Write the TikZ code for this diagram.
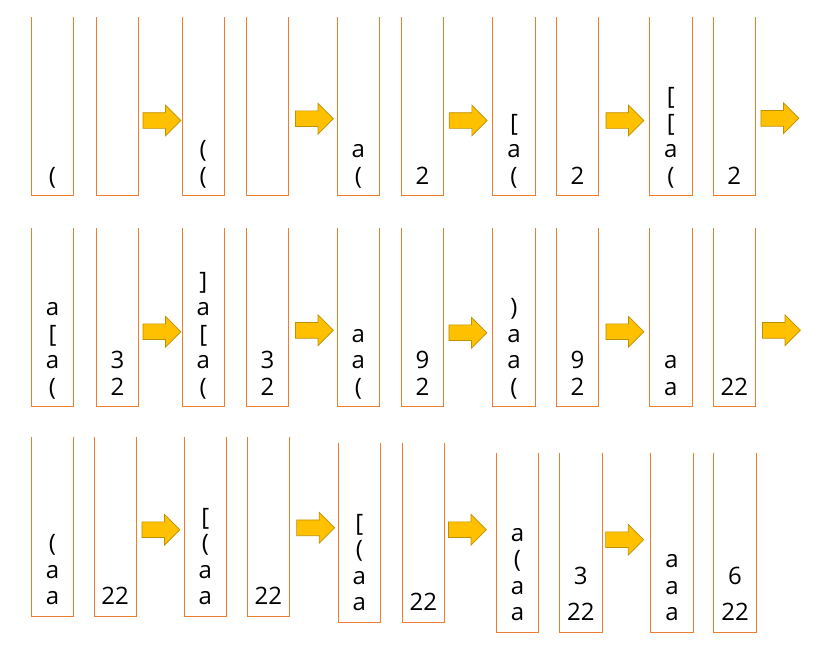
\documentclass[tikz,border=0pt]{standalone}
\usepackage{fontspec}
\setmainfont{Open Sans}
\usetikzlibrary{shapes.arrows}
\definecolor{stackorange}{HTML}{ED7D31}
\definecolor{arrowgold}{HTML}{FFC000}
\definecolor{arrowedge}{HTML}{BF9000}
\tikzstyle{stack} = [rectangle, minimum width=42, minimum height=178.5, inner sep=0]
\tikzstyle{wall} = [draw=stackorange, line width=1pt]
\tikzstyle{push} = [single arrow, single arrow head extend=7.5pt, minimum width=30,
    minimum height=38, inner xsep=0, inner ysep=7.5pt, fill=arrowgold, draw=arrowedge, line width=0.7pt]
\tikzstyle{items} = [font=\fontsize{24}{26.5}\selectfont, align=center, inner sep=0,
    anchor=south, execute at end node=\strut]

\begin{document}
\begin{tikzpicture}[x=1pt,y=-1pt]
    \useasboundingbox (0,0) rectangle (831,648);
    \node[stack] (r1c1) at (52.5,106.5) {};
    \node[stack] (r1c2) at (117.5,106.5) {};
    \node[stack] (r1c3) at (203.2,106.5) {};
    \node[stack] (r1c4) at (267.5,106.5) {};
    \node[stack] (r1c5) at (358.3,106.5) {};
    \node[stack] (r1c6) at (422.5,106.5) {};
    \node[stack] (r1c7) at (514,106.5) {};
    \node[stack] (r1c8) at (577.5,106.5) {};
    \node[stack] (r1c9) at (670.8,106.5) {};
    \node[stack] (r1c10) at (734.3,106.5) {};
    \node[stack] (r2c1) at (52.5,317.5) {};
    \node[stack] (r2c2) at (117.5,317.5) {};
    \node[stack] (r2c3) at (203.2,317.5) {};
    \node[stack] (r2c4) at (267.5,317.5) {};
    \node[stack] (r2c5) at (358.3,317.5) {};
    \node[stack] (r2c6) at (422.5,317.5) {};
    \node[stack] (r2c7) at (514,317.5) {};
    \node[stack] (r2c8) at (577.5,317.5) {};
    \node[stack] (r2c9) at (670.8,317.5) {};
    \node[stack] (r2c10) at (734.3,317.5) {};
    \node[stack] (r3c1) at (52.5,526.7) {};
    \node[stack] (r3c2) at (115.2,526.7) {};
    \node[stack] (r3c3) at (205.3,526.7) {};
    \node[stack] (r3c4) at (268.3,526.7) {};
    \node[stack] (r3c5) at (359.3,532.7) {};
    \node[stack] (r3c6) at (423.3,532.7) {};
    \node[stack] (r3c7) at (517.5,542.7) {};
    \node[stack] (r3c8) at (580.8,542.7) {};
    \node[stack] (r3c9) at (672,542.7) {};
    \node[stack] (r3c10) at (735,542.7) {};
    \foreach \n in {r1c1,r1c2,r1c3,r1c4,r1c5,r1c6,r1c7,r1c8,r1c9,r1c10,
                    r2c1,r2c2,r2c3,r2c4,r2c5,r2c6,r2c7,r2c8,r2c9,r2c10,
                    r3c1,r3c2,r3c3,r3c4,r3c5,r3c6,r3c7,r3c8,r3c9,r3c10}
        \draw[wall] (\n.north west) -- (\n.south west) -- (\n.south east) -- (\n.north east);

    \node[items] (s1c1) at ([yshift=3.5]r1c1.south) {(};
    \node[items] (s1c3) at ([yshift=3.5]r1c3.south) {(\\(};
    \node[items] (s1c5) at ([yshift=3.5]r1c5.south) {a\\(};
    \node[items] (s1c6) at ([yshift=3.5]r1c6.south) {2};
    \node[items] (s1c7) at ([yshift=3.5]r1c7.south) {{[}\\a\\(};
    \node[items] (s1c8) at ([yshift=3.5]r1c8.south) {2};
    \node[items] (s1c9) at ([yshift=3.5]r1c9.south) {{[}\\{[}\\a\\(};
    \node[items] (s1c10) at ([yshift=3.5]r1c10.south) {2};

    \node[items] (s2c1) at ([yshift=3.5]r2c1.south) {a\\{[}\\a\\(};
    \node[items] (s2c2) at ([yshift=3.5]r2c2.south) {3\\2};
    \node[items] (s2c3) at ([yshift=3.5]r2c3.south) {]\\a\\{[}\\a\\(};
    \node[items] (s2c4) at ([yshift=3.5]r2c4.south) {3\\2};
    \node[items] (s2c5) at ([yshift=3.5]r2c5.south) {a\\a\\(};
    \node[items] (s2c6) at ([yshift=3.5]r2c6.south) {9\\2};
    \node[items] (s2c7) at ([yshift=3.5]r2c7.south) {)\\a\\a\\(};
    \node[items] (s2c8) at ([yshift=3.5]r2c8.south) {9\\2};
    \node[items] (s2c9) at ([yshift=3.5]r2c9.south) {a\\a};
    \node[items] (s2c10) at ([yshift=3.5]r2c10.south) {22};

    \node[items] (s3c1) at ([yshift=3.5]r3c1.south) {(\\a\\a};
    \node[items] (s3c2) at ([yshift=3.5]r3c2.south) {22};
    \node[items] (s3c3) at ([yshift=3.5]r3c3.south) {{[}\\(\\a\\a};
    \node[items] (s3c4) at ([yshift=3.5]r3c4.south) {22};
    \node[items] (s3c5) at ([yshift=3.5]r3c5.south) {{[}\\(\\a\\a};
    \node[items] (s3c6) at ([yshift=3.5]r3c6.south) {22};
    \node[items] (s3c7) at ([yshift=3.5]r3c7.south) {a\\(\\a\\a};
    \node[items] (s3c8) at ([yshift=3.5]r3c8.south) {3\\[10pt]22};
    \node[items] (s3c9) at ([yshift=3.5]r3c9.south) {a\\a\\a};
    \node[items] (s3c10) at ([yshift=3.5]r3c10.south) {6\\[10pt]22};

    \node[push] (p1r1) at (158,120.5) {};
    \node[push] (p2r1) at (310.5,118.7) {};
    \node[push] (p3r1) at (464.3,120.5) {};
    \node[push] (p4r1) at (621,120.5) {};
    \node[push] (p5r1) at (776,118.3) {};
    \node[push] (p1r2) at (158,331.7) {};
    \node[push] (p2r2) at (310.5,330.3) {};
    \node[push] (p3r2) at (464,332.7) {};
    \node[push] (p4r2) at (621,331.7) {};
    \node[push] (p5r2) at (777.5,330.3) {};
    \node[push] (p1r3) at (157,529.7) {};
    \node[push] (p2r3) at (311.7,527.8) {};
    \node[push] (p3r3) at (463.5,529.7) {};
    \node[push] (p4r3) at (620.7,539.7) {};
\end{tikzpicture}
\end{document}
